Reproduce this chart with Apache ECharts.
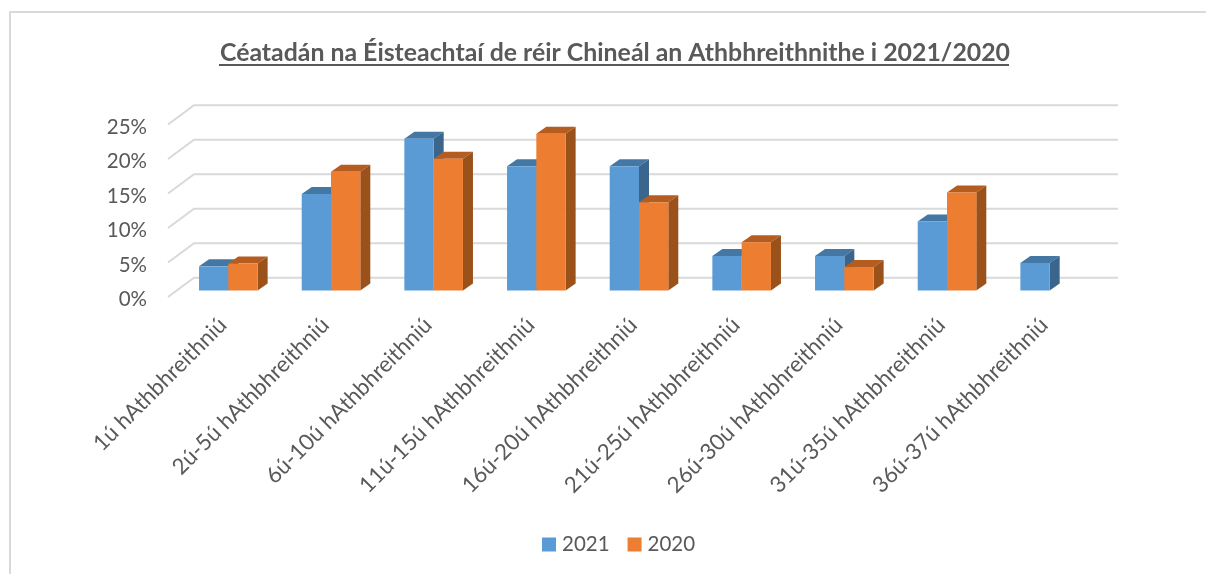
<!DOCTYPE html>
<html>
<head>
<meta charset="utf-8">
<title>Céatadán na Éisteachtaí</title>
<script src="https://cdn.jsdelivr.net/npm/echarts@6/dist/echarts.min.js"></script>
<style>
    html, body { margin: 0; padding: 0; background: #fff; }
    #main { width: 1206px; height: 574px; }
</style>
</head>
<body>
<div id="main"></div>
<script>
var categories = ['1ú hAthbhreithniú', '2ú-5ú hAthbhreithniú', '6ú-10ú hAthbhreithniú', '11ú-15ú hAthbhreithniú',
    '16ú-20ú hAthbhreithniú', '21ú-25ú hAthbhreithniú', '26ú-30ú hAthbhreithniú', '31ú-35ú hAthbhreithniú', '36ú-37ú hAthbhreithniú'];
var values2021 = [3.5, 14, 22, 18, 18, 5, 5, 10, 4];
var values2020 = [3.9, 17.2, 19.1, 22.7, 12.8, 7, 3.4, 14.2, null];
var yTicks = [0, 5, 10, 15, 20, 25];

var textColor = '#595959';
var fontName = 'Lato';

// pseudo 3D: walls are pushed back from the axis plane, bars sit half way
var wallDx = 26, wallDy = -19.3;
var barDx = 9, barDy = -6.5;
var depthDx = 10, depthDy = -7;
var barWidth = 29.3;

function toRows(values){
    return values.map(function(v, i){ return [i, v]; });
}

function poly(points, color){
    return { type: 'polygon', shape: { points: points }, style: { fill: color } };
}

// one 3D column, seriesPos is -1 for the left bar and 0 for the right one
function barRenderer(seriesPos, front, top, side){
    return function(params, api){
        var v = api.value(1);
        if (v === null || isNaN(v)) return;
        var p = api.coord([api.value(0), v]);
        var b = api.coord([api.value(0), 0]);
        var x0 = p[0] + barDx + seriesPos * barWidth;
        var x1 = x0 + barWidth;
        var y0 = p[1] + barDy;
        var y1 = b[1] + barDy;
        return {
            type: 'group',
            children: [
                poly([[x0, y0], [x0 + depthDx, y0 + depthDy], [x1 + depthDx, y0 + depthDy], [x1, y0]], top),
                poly([[x1, y0], [x1 + depthDx, y0 + depthDy], [x1 + depthDx, y1 + depthDy], [x1, y1]], side),
                poly([[x0, y0], [x1, y0], [x1, y1], [x0, y1]], front)
            ]
        };
    };
}

// gridline running along the floor/side wall and then along the back wall
function gridRenderer(params, api){
    var sys = params.coordSys;
    var y = api.coord([0, api.value(0)])[1];
    return {
        type: 'polyline',
        shape: { points: [[sys.x, y], [sys.x + wallDx, y + wallDy], [sys.x + sys.width + wallDx, y + wallDy]] },
        style: { fill: null, stroke: '#d9d9d9', lineWidth: 2 }
    };
}

var myChart = echarts.init(document.getElementById('main'));
var option = {
    animation: false,
    backgroundColor: '#fff',
    title: {
        text: 'Céatadán na Éisteachtaí de réir Chineál an Athbhreithnithe i 2021/2020',
        left: 610,
        top: 35,
        textAlign: 'center',
        textStyle: { fontFamily: fontName, fontSize: 24.85, fontWeight: 'bold', color: textColor }
    },
    legend: {
        data: ['2021', '2020'],
        left: 537,
        top: 529,
        icon: 'rect',
        itemWidth: 14,
        itemHeight: 14,
        itemGap: 18,
        textStyle: { fontFamily: fontName, fontSize: 20.5, color: textColor, padding: [0, 0, 0, 1] }
    },
    grid: { left: 168, width: 924, top: 124.5, height: 172.5 },
    xAxis: {
        type: 'category',
        data: categories,
        axisLine: { show: false },
        axisTick: { show: false },
        axisLabel: { interval: 0, rotate: 45, margin: 28, padding: [0, -5, 0, 0], fontFamily: fontName, fontSize: 22.2, color: textColor }
    },
    yAxis: {
        type: 'value',
        min: 0,
        max: 25,
        interval: 5,
        axisLine: { show: false },
        axisTick: { show: false },
        splitLine: { show: false },
        axisLabel: {
            formatter: '{v|{value}%}',
            margin: 21,
            // labels sit a little under the tick in the original
            rich: { v: { padding: [5, 0, 0, 0], fontFamily: fontName, fontSize: 20.5, color: textColor } }
        }
    },
    graphic: [
        // title underline and the chart frame
        { type: 'line', shape: { x1: 219, y1: 65, x2: 1009, y2: 65 }, style: { stroke: textColor, lineWidth: 2 } },
        { type: 'polyline', shape: { points: [[10, 574], [10, 12], [1206, 12]] }, style: { fill: null, stroke: '#d9d9d9', lineWidth: 2 } }
    ],
    series: [
        { type: 'custom', data: yTicks, z: 1, silent: true, renderItem: gridRenderer, encode: { y: 0 } },
        {
            name: '2021', type: 'custom', z: 2, data: toRows(values2021),
            itemStyle: { color: '#5b9bd5' },
            encode: { x: 0, y: 1 },
            renderItem: barRenderer(-1, '#5b9bd5', '#4577a5', '#3a658d')
        },
        {
            name: '2020', type: 'custom', z: 3, data: toRows(values2020),
            itemStyle: { color: '#ed7d31' },
            encode: { x: 0, y: 1 },
            renderItem: barRenderer(0, '#ed7d31', '#b55d20', '#9a511a')
        }
    ]
};
myChart.setOption(option);
</script>
</body>
</html>
